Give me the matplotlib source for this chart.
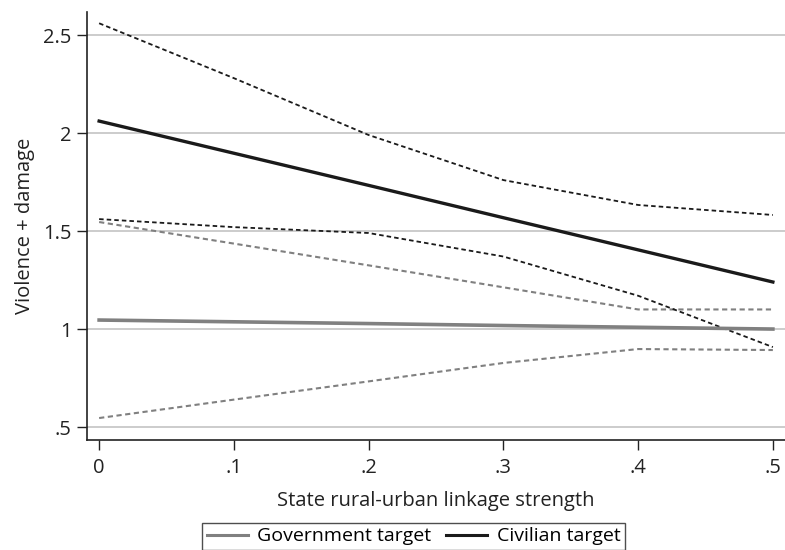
import numpy as np
import matplotlib
matplotlib.use("Agg")
import matplotlib.pyplot as plt
from matplotlib.lines import Line2D

plt.rcParams['font.family'] = ['Open Sans', 'DejaVu Sans']

# linkage strength values where margins were estimated
linkage = [0, .1, .2, .3, .4, .5]

# Government target: estimate and 95% CI
gov_est = [1.046, 1.037, 1.028, 1.018, 1.009, 1.0]
gov_hi = [1.546, 1.436, 1.325, 1.213, 1.10, 1.10]
gov_lo = [0.546, 0.640, 0.733, 0.827, 0.898, 0.893]

# Civilian target: estimate and 95% CI
civ_est = [2.061, 1.897, 1.733, 1.568, 1.404, 1.24]
civ_hi = [2.56, 2.28, 1.99, 1.76, 1.633, 1.582]
civ_lo = [1.561, 1.52, 1.49, 1.37, 1.17, 0.908]

yticks = [.5, 1, 1.5, 2, 2.5]
ytick_labels = ['.5', '1', '1.5', '2', '2.5']
xticks = [0, .1, .2, .3, .4, .5]
xtick_labels = ['0', '.1', '.2', '.3', '.4', '.5']

gov_col = '#808080'
civ_col = '#1a1a1a'
dash = (0, (2.5, 1.7))

fig = plt.figure(figsize=(7.85, 5.5), dpi=100)
ax = fig.add_axes([0.111, 0.2, 0.889, 0.778])

# confidence bands (dashed)
ax.plot(linkage, gov_hi, color=gov_col, lw=1.5, ls=dash)
ax.plot(linkage, gov_lo, color=gov_col, lw=1.5, ls=dash)
ax.plot(linkage, civ_hi, color=civ_col, lw=1.3, ls=dash)
ax.plot(linkage, civ_lo, color=civ_col, lw=1.3, ls=dash)

# point estimates
ax.plot(linkage, gov_est, color=gov_col, lw=2.6)
ax.plot(linkage, civ_est, color=civ_col, lw=2.4)

ax.set_xlim(-0.0089, 0.509)
ax.set_ylim(0.434, 2.617)
ax.set_yticks(yticks)
ax.set_yticklabels(ytick_labels)
ax.set_xticks(xticks)
ax.set_xticklabels(xtick_labels)
ax.grid(axis='y', color='#c4c4c4', lw=1.2)
ax.set_axisbelow(True)

for s in ['top', 'right']:
    ax.spines[s].set_visible(False)
for s in ['left', 'bottom']:
    ax.spines[s].set_linewidth(1.2)
    ax.spines[s].set_color('#222222')

ax.tick_params(axis='both', labelsize=14.5, length=7, width=1, colors='#222222', pad=4)
ax.tick_params(axis='x', pad=6)

ax.set_ylabel('Violence + damage', fontsize=14.5, labelpad=6, color='#222222')
ax.set_xlabel('State rural-urban linkage strength', fontsize=14.5, labelpad=9, color='#222222')

handles = [Line2D([], [], color=gov_col, lw=2.2),
           Line2D([], [], color=civ_col, lw=2.2)]
leg = fig.legend(handles, ['Government target', 'Civilian target'],
                 loc='upper center', bbox_to_anchor=(0.527, 0.05),
                 ncol=2, fontsize=14, frameon=True, fancybox=False,
                 edgecolor='#222222', handlelength=2.1, columnspacing=0.75,
                 handletextpad=0.5, borderpad=0.25, borderaxespad=0.0)
leg.get_frame().set_linewidth(1.0)

fig.savefig('out.png', dpi=100)
